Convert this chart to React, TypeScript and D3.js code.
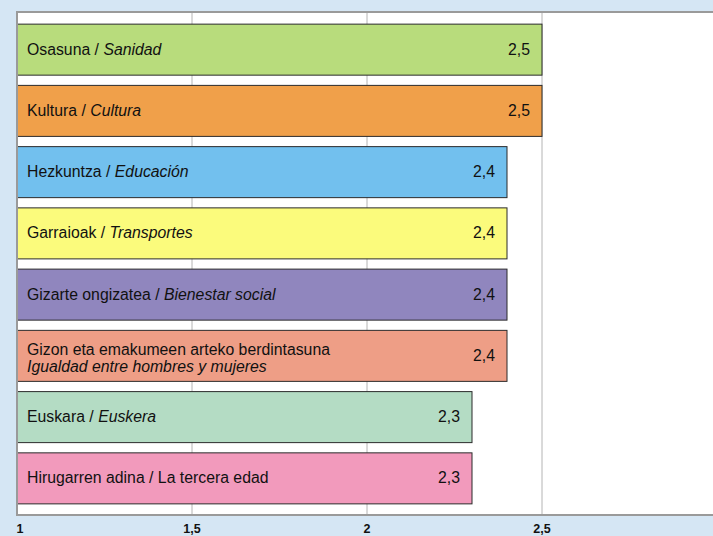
import * as d3 from "d3";

const categories = [
  "Osasuna",
  "Kultura",
  "Hezkuntza",
  "Garraioak",
  "Gizarte ongizatea",
  "Gizon eta emakumeen arteko berdintasuna",
  "Euskara",
  "Hirugarren adina",
];
const spanish = [
  "Sanidad",
  "Cultura",
  "Educación",
  "Transportes",
  "Bienestar social",
  "Igualdad entre hombres y mujeres",
  "Euskera",
  "La tercera edad",
];
const values = [2.5, 2.5, 2.4, 2.4, 2.4, 2.4, 2.3, 2.3];
const colors = [
  "#b8dc7c",
  "#f0a04a",
  "#72c0ee",
  "#fbfb7c",
  "#9086be",
  "#ee9e86",
  "#b4dcc4",
  "#f29abc",
];
const ticks = [1, 1.5, 2, 2.5];
const gridTicks = [1.5, 2, 2.5, 3];

const W = 713;
const H = 536;
const left = 17;
const top = 12;
const bottom = 515;

export default function App() {
  const x = d3.scaleLinear().domain([1, 3]).range([left, left + 700]);
  const y = d3
    .scaleBand<number>()
    .domain(d3.range(categories.length))
    .range([top, bottom])
    .paddingInner(0.167)
    .paddingOuter(0.19);
  const fmt = (v: number) => String(v).replace(".", ",");
  const font = "'Liberation Sans', Arial, sans-serif";
  const fs = 15.8;

  return (
    <svg
      width={W}
      height={H}
      style={{ position: "absolute", left: 0, top: 0, display: "block" }}
      fontFamily={font}
    >
      <rect width={W} height={H} fill="#d5e6f4" />
      <rect x={left} y={top} width={W - left} height={bottom - top} fill="#fff" />
      {gridTicks.map((t) => (
        <line key={t} x1={x(t)} x2={x(t)} y1={top} y2={bottom} stroke="#b4b4b4" strokeWidth={1} />
      ))}
      {values.map((v, i) => {
        const y0 = y(i)!;
        const bh = y.bandwidth();
        const two = i === 5;
        return (
          <g key={i}>
            <rect
              x={x(1)}
              y={y0 + 0.5}
              width={x(v) - x(1)}
              height={bh}
              fill={colors[i]}
              stroke="#2b2b2b"
              strokeWidth={1}
            />
            {two ? (
              <text x={27} y={y0 + bh / 2} fontSize={fs} fill="#111">
                {categories[i]}
                <tspan x={27} dy={17} fontStyle="italic">
                  {spanish[i]}
                </tspan>
              </text>
            ) : (
              <text x={27} y={y0 + bh / 2 + 5.5} fontSize={fs} fill="#111">
                {categories[i]} /{" "}
                <tspan fontStyle={i === 7 ? "normal" : "italic"}>{spanish[i]}</tspan>
              </text>
            )}
            <text
              x={x(v) - 12}
              y={y0 + bh / 2 + 5.5}
              fontSize={fs}
              textAnchor="end"
              fill="#111"
            >
              {fmt(v)}
            </text>
          </g>
        );
      })}
      <line x1={left} x2={W} y1={top} y2={top} stroke="#9a9a9a" strokeWidth={2} />
      <line x1={left} x2={W} y1={bottom} y2={bottom} stroke="#9a9a9a" strokeWidth={2} />
      <line x1={left} x2={left} y1={top - 1} y2={bottom + 1} stroke="#9a9a9a" strokeWidth={2} />
      {ticks.map((t) => (
        <text
          key={t}
          x={x(t) + (t === 1 ? 3 : 0)}
          y={533}
          fontSize={12.5}
          fontWeight="bold"
          textAnchor="middle"
          fill="#111"
        >
          {fmt(t)}
        </text>
      ))}
    </svg>
  );
}
